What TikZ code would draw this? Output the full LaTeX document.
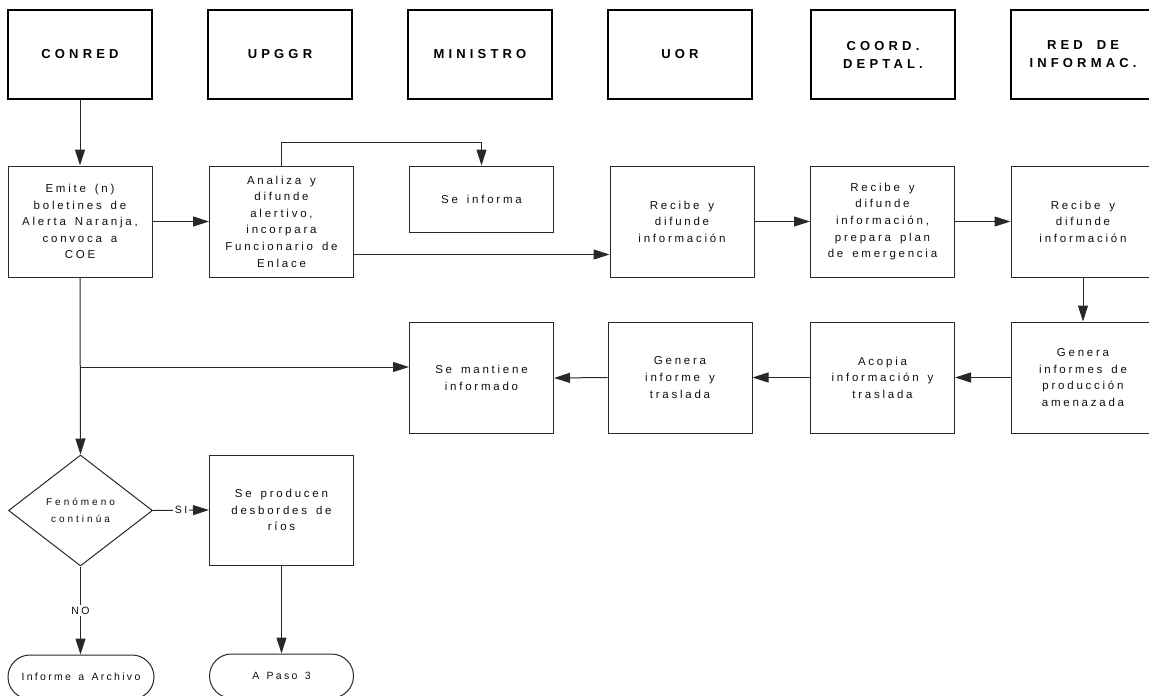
\documentclass[tikz,border=0pt]{standalone}
\usepackage{fontspec}
\setmainfont{Liberation Sans}
\newfontfamily\headfont[LetterSpace=32,WordSpace=1.8]{Liberation Sans}
\newfontfamily\bodyfont[LetterSpace=24,WordSpace=1.5]{Liberation Sans}
\newfontfamily\smallfont[LetterSpace=30]{Liberation Sans}
\newfontfamily\termfont[LetterSpace=22,WordSpace=1.4]{Liberation Sans}
\usetikzlibrary{shapes.geometric,shapes.misc,arrows.meta}

\definecolor{linegray}{RGB}{40,40,40}
\definecolor{textgray}{RGB}{15,15,15}

\begin{document}
\begin{tikzpicture}[x=1pt,y=-1pt,
  header/.style={draw=black, line width=1.7pt, minimum width=144pt, minimum height=89pt,
    inner sep=0pt, align=center, text=black,
    font=\headfont\bfseries\fontsize{13}{18}\selectfont},
  stepbox/.style={draw=linegray, line width=1pt, minimum width=144pt, minimum height=111pt,
    inner sep=0pt, align=center, text=textgray,
    font=\bodyfont\fontsize{11.5}{16.6}\selectfont},
  decision/.style={draw=linegray, line width=1pt, diamond, minimum width=144pt, minimum height=111pt,
    inner sep=0pt, align=center, text=textgray,
    font=\smallfont\fontsize{10}{16.6}\selectfont},
  terminal/.style={draw=linegray, line width=1pt, rounded rectangle, minimum width=146pt, minimum height=44pt,
    inner sep=0pt, align=center, text=textgray,
    font=\termfont\fontsize{10.5}{14}\selectfont},
  arr/.style={draw=linegray, line width=1pt, -{Triangle[length=16pt,width=10pt]}},
  lbl/.style={fill=white, inner sep=1.5pt, text=textgray, font=\bodyfont\fontsize{10.5}{12}\selectfont}
]
\useasboundingbox (0,0) rectangle (1149,696);
\clip (0,0) rectangle (1149,696);

% swimlane headers
\node[header] (hconred) at (80,54.5)   {CONRED};
\node[header] (hupggr)  at (280,54.5)  {UPGGR};
\node[header] (hmin)    at (480,54.5)  {MINISTRO};
\node[header] (huor)    at (680,54.5)  {UOR};
\node[header] (hcoord)  at (883,54.5)  {COORD.\\DEPTAL.};
\node[header] (hred)    at (1083,54.5) {RED DE\\INFORMAC.};

% first row
\node[stepbox] (emite)   at (80,221.5)  {Emite (n)\\boletines de\\Alerta Naranja,\\convoca a\\COE};
\node[stepbox] (analiza) at (281.5,221.5) {Analiza y\\difunde\\alertivo,\\incorpara\\Funcionario de\\Enlace};
\node[stepbox, minimum height=66pt] (seinf) at (481.5,199) {Se informa};
\node[stepbox] (uorrec)  at (682,221.5)  {Recibe y\\difunde\\información};
\node[stepbox] (coordrec) at (882.5,221.5) {Recibe y\\difunde\\información,\\prepara plan\\de emergencia};
\node[stepbox] (redrec)  at (1083,221.5) {Recibe y\\difunde\\información};

% second row
\node[stepbox] (redgen)   at (1083,377.5)  {Genera\\informes de\\producción\\amenazada};
\node[stepbox] (acopia)   at (882.5,377.5) {Acopia\\información y\\traslada};
\node[stepbox] (uorgen)   at (680,377.5)   {Genera\\informe y\\traslada};
\node[stepbox] (mantiene) at (481.5,378)   {Se mantiene\\informado};

% decision and outcomes
\node[decision] (fen) at (80.5,510.5) {Fenómeno\\continúa};
\node[stepbox, minimum height=110pt] (desb) at (281.5,510) {Se producen\\desbordes de\\ríos};
\node[terminal] (archivo) at (81,677) {Informe a Archivo};
\node[terminal, minimum width=144pt] (paso3) at (281.5,676) {A Paso 3};

% connectors
\draw[arr] (hconred) -- (emite);
\draw[arr] (emite.east) -- (analiza.west);
\draw[arr] (analiza.north) -- ++(0,-23) -| (seinf.north);
\draw[arr] ([yshift=-33pt]analiza.east) -- ([yshift=-33pt]analiza.east -| uorrec.west);
\draw[arr] (uorrec.east) -- (coordrec.west);
\draw[arr] (coordrec.east) -- (redrec.west);
\draw[arr] (redrec) -- (redgen);
\draw[arr] (redgen.west) -- (acopia.east);
\draw[arr] (acopia.west) -- (uorgen.east);
\draw[arr] (uorgen.west) -- (mantiene.east);
\draw[arr] (emite.south) -- (fen.north);
\coordinate (branch) at (80,367);
\draw[arr] (branch) -- (branch -| mantiene.west);
\draw[arr] (fen.east) -- node[lbl] {SI} (desb.west);
\draw[arr] (fen.south) -- node[lbl] {NO} (fen.south |- archivo.north);
\draw[arr] (desb.south) -- (paso3.north);
\end{tikzpicture}
\end{document}
